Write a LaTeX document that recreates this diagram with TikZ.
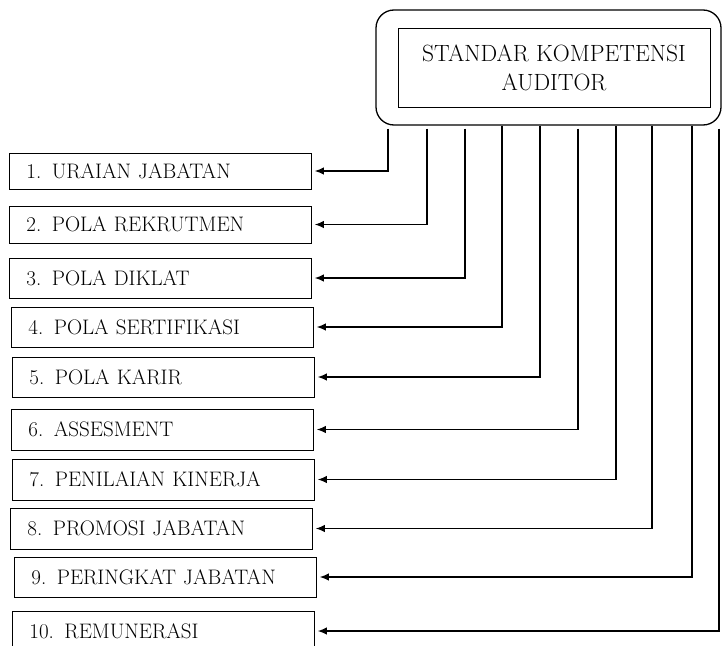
\documentclass[tikz,border=0pt]{standalone}
\usepackage{fontspec}
\usepackage{tikz}
\usetikzlibrary{arrows.meta}

\begin{document}
\begin{tikzpicture}[
    x=1pt, y=-1pt,
    item/.style={rectangle, draw, line width=0.9pt, text width=268pt, align=left,
                 inner xsep=17pt, inner ysep=0pt, minimum height=40pt, anchor=west,
                 font=\fontsize{21}{24}\selectfont},
    arr/.style={-{Latex[length=9pt,width=7.5pt]}, line width=1.1pt, shorten >=3pt}
]
\useasboundingbox (0,0) rectangle (722,645);
\node[draw, rounded corners=18pt, line width=1.3pt, minimum width=345pt,
      minimum height=115pt] (outer) at (548.5,67.5) {};
\node[draw, line width=0.9pt, minimum width=312pt, minimum height=79pt, align=center,
      font=\fontsize{23.5}{29}\selectfont] (sk) at (554,67.5) {STANDAR KOMPETENSI\\ AUDITOR};

\node[item, minimum height=36pt] (b1) at (9,171) {1. URAIAN JABATAN};
\node[item, minimum height=37pt] (b2) at (9,224.5) {2. POLA REKRUTMEN};
\node[item] (b3) at (9,278) {3. POLA DIKLAT};
\node[item] (b4) at (11,327) {4. POLA SERTIFIKASI};
\node[item] (b5) at (12,377) {5. POLA KARIR};
\node[item, minimum height=41pt] (b6) at (11,429.5) {6. ASSESMENT};
\node[item, minimum height=41pt] (b7) at (12,479.5) {7. PENILAIAN KINERJA};
\node[item, minimum height=41pt] (b8) at (10,528.5) {8. PROMOSI JABATAN};
\node[item] (b9) at (14,577) {9. PERINGKAT JABATAN};
\node[item] (b10) at (12,631) {10. REMUNERASI};

\draw[arr, shorten <=3pt] (outer.south -| 388,0) |- (b1.east);
\draw[arr, shorten <=3pt] (outer.south -| 427,0) |- (b2.east);
\draw[arr, shorten <=3pt] (outer.south -| 465,0) |- (b3.east);
\draw[arr] (outer.south -| 502,0) |- (b4.east);
\draw[arr] (outer.south -| 540,0) |- (b5.east);
\draw[arr, shorten <=3pt] (outer.south -| 578,0) |- (b6.east);
\draw[arr] (outer.south -| 616,0) |- (b7.east);
\draw[arr] (outer.south -| 652,0) |- (b8.east);
\draw[arr] (outer.south -| 692,0) |- (b9.east);
\draw[arr, shorten <=3pt] (outer.south -| 719,0) |- (b10.east);
\end{tikzpicture}
\end{document}
